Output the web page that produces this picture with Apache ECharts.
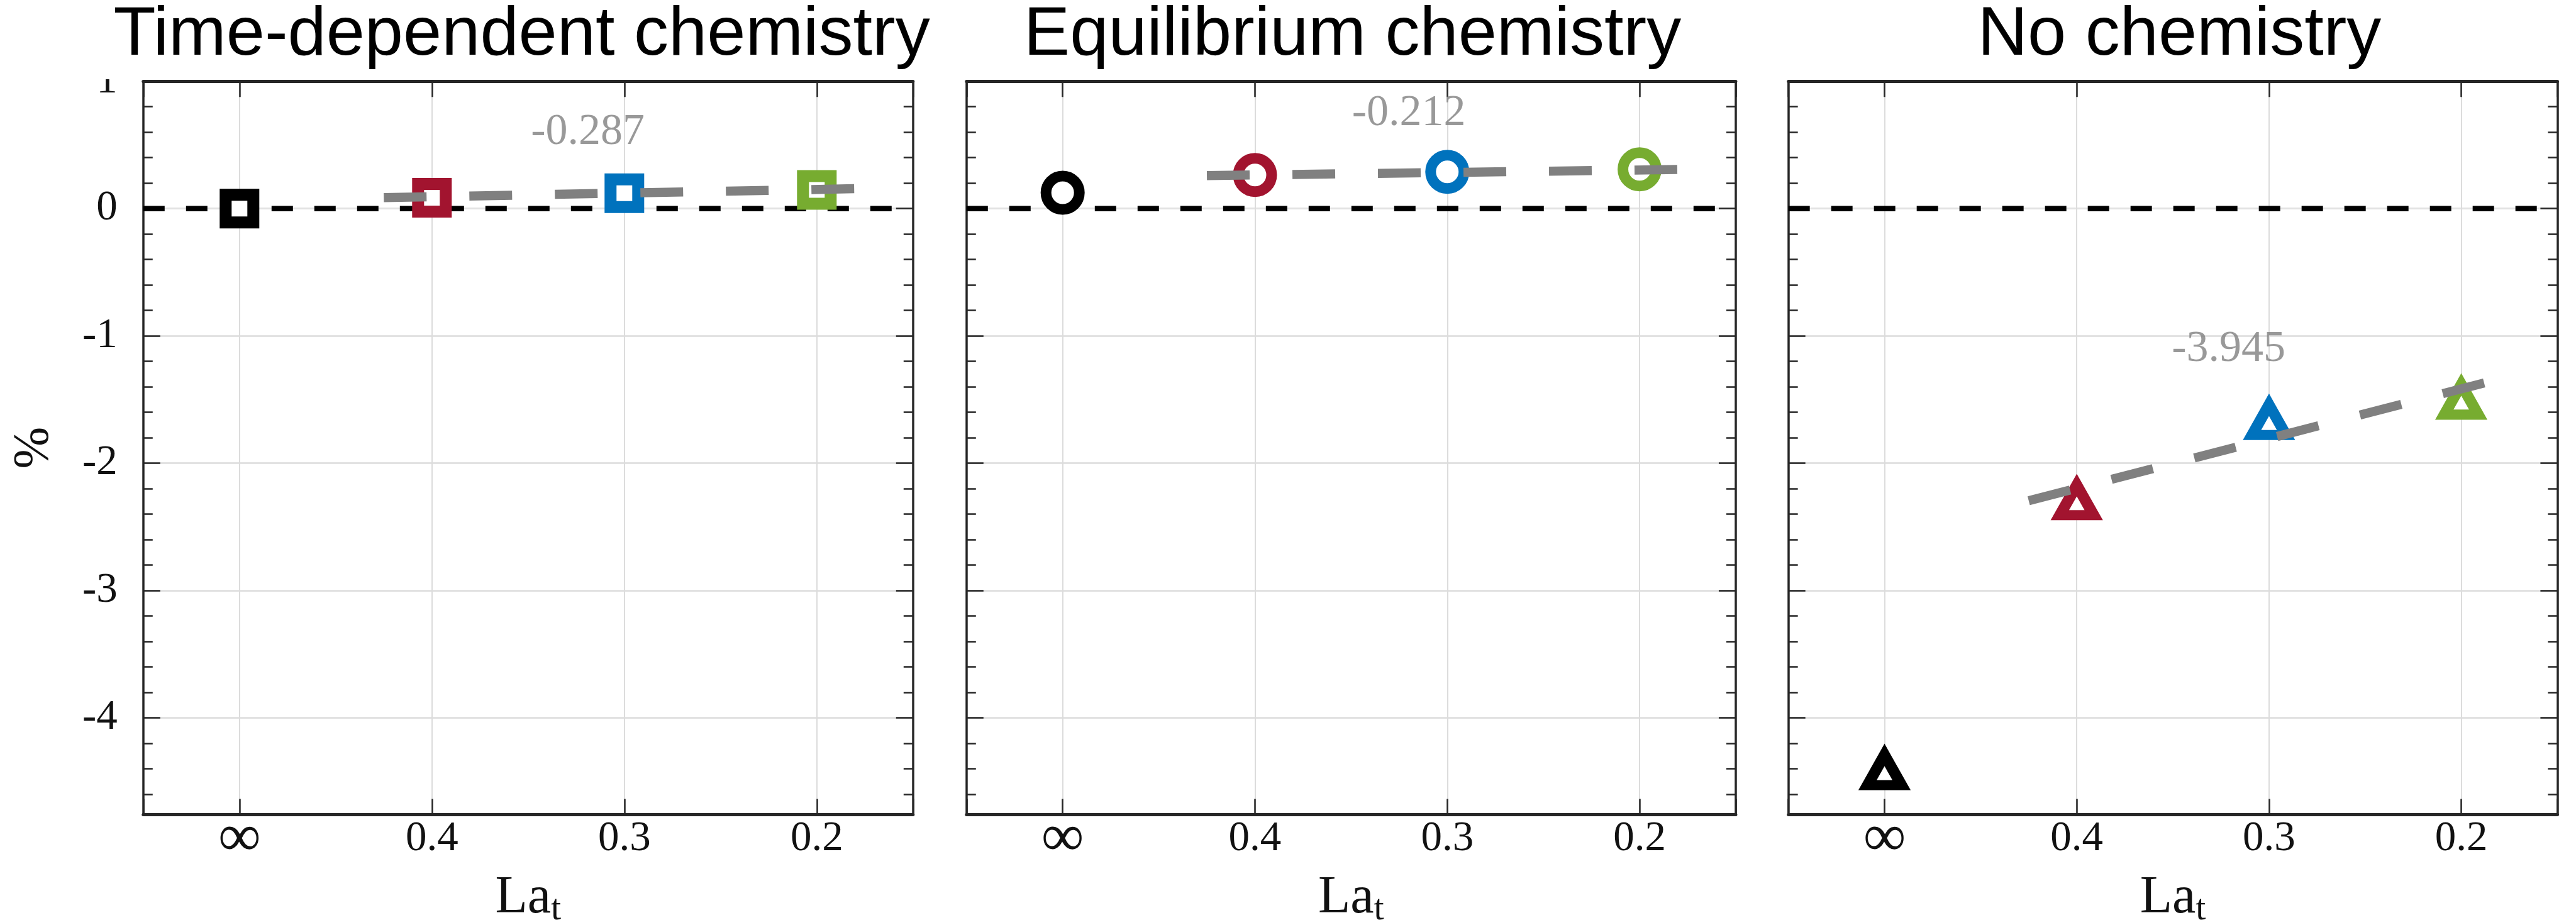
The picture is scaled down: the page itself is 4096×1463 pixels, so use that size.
<!DOCTYPE html>
<html>
<head>
<meta charset="utf-8">
<script src="https://cdn.jsdelivr.net/npm/echarts@6/dist/echarts.min.js"></script>
<style>
html, body { margin: 0; padding: 0; background: #fff; }
#chart { width: 4096px; height: 1463px; }
</style>
</head>
<body>
<div id="chart"></div>
<script>
// x categories (La_t), left to right
var laLabels = ['\u221e', '0.4', '0.3', '0.2'];
var markerColors = ['#000000', '#A2142F', '#0072BD', '#77AC30'];
var panelTitles = ['Time-dependent chemistry', 'Equilibrium chemistry', 'No chemistry'];
var panelSymbols = ['rect', 'circle', 'triangle'];

// % change at each La_t
var timeDepValues = [0.0, 0.085, 0.12, 0.147];
var equilValues = [0.124, 0.264, 0.288, 0.308];
var noChemValues = [-4.41, -2.29, -1.66, -1.50];

// gray dashed fits, [x index, %] end points
var timeDepFit = [[0.75, 0.086], [3.2, 0.156]];
var equilFit = [[0.75, 0.259], [3.2, 0.307]];
var noChemFit = [[0.75, -2.295], [3.2, -1.338]];

// slope annotations
var slopeTexts = ['-0.287', '-0.212', '-3.945'];
var slopeX = [1.81, 1.80, 1.79];
var slopeY = [0.597, 0.744, -1.105];

// y axis range
var yMin = -4.76;
var yMax = 1;

var panelValues = [timeDepValues, equilValues, noChemValues];
var panelFits = [timeDepFit, equilFit, noChemFit];

// layout (reference px * 0.85)
var S = 0.85;
var gridLeft = [268, 1808, 3345.5];
var gridRight = [1708, 3247, 4784];
var gridTop = 152, gridBottom = 1524;
var titleCenter = [976, 2530, 4077];

var serif = '"Liberation Serif", "DejaVu Serif", serif';
var frameColor = '#262626';

var grids = [], xAxes = [], yAxes = [], series = [], graphics = [];

var symbolSizes = [44, 53, [54, 48]];
var symbolBorders = [19, 17, 17];

function xLabel(v) {
    var i = Math.round(v);
    if (Math.abs(v - i) > 1e-6 || i < 0 || i > 3) return '';
    return i === 0 ? '{inf|' + laLabels[0] + '}' : laLabels[i];
}

for (var p = 0; p < 3; p++) {
    grids.push({
        left: gridLeft[p] * S,
        top: gridTop * S,
        width: (gridRight[p] - gridLeft[p]) * S,
        height: (gridBottom - gridTop) * S,
        containLabel: false,
        outerBoundsMode: 'none'
    });

    xAxes.push({
        type: 'value', gridIndex: p, position: 'bottom',
        min: -0.5, max: 3.5, splitNumber: 4,
        axisLine: { show: true, onZero: false, lineStyle: { color: frameColor, width: 5 } },
        axisTick: { show: true, inside: true, length: 25, lineStyle: { color: frameColor, width: 2.5 } },
        axisLabel: {
            formatter: xLabel, margin: 6, fontFamily: serif, fontSize: 67, color: '#111',
            rich: { inf: { fontFamily: serif, fontSize: 95, lineHeight: 67, color: '#111' } }
        },
        splitLine: { show: true, lineStyle: { color: '#dcdcdc', width: 2 } },
        name: '{a|La}{b|t}', nameLocation: 'middle', nameGap: 88,
        nameTextStyle: {
            rich: {
                a: { fontFamily: serif, fontSize: 84, color: '#111', verticalAlign: 'top', lineHeight: 84 },
                b: { fontFamily: serif, fontSize: 58, color: '#111', verticalAlign: 'top', lineHeight: 58, padding: [30, 0, 0, 0] }
            }
        }
    });
    xAxes.push({
        type: 'value', gridIndex: p, position: 'top',
        min: -0.5, max: 3.5, splitNumber: 4,
        axisLine: { show: true, onZero: false, lineStyle: { color: frameColor, width: 5 } },
        axisTick: { show: true, inside: true, length: 25, lineStyle: { color: frameColor, width: 2.5 } },
        axisLabel: { show: false },
        splitLine: { show: false }
    });
    yAxes.push({
        type: 'value', gridIndex: p, position: 'left',
        min: yMin, max: yMax, splitNumber: 6,
        axisLine: { show: true, onZero: false, lineStyle: { color: frameColor, width: 3.5 } },
        axisTick: { show: true, inside: true, length: 27, lineStyle: { color: frameColor, width: 2.5 } },
        minorTick: { show: true, splitNumber: 5, length: 15, lineStyle: { color: frameColor, width: 2.5 } },
        axisLabel: {
            show: p === 0, showMinLabel: false, margin: 41,
            fontFamily: serif, fontSize: 67, color: '#111',
            formatter: function (v) { return String(v); }
        },
        splitLine: { show: true, lineStyle: { color: '#e2e2e2', width: 3 } },
        name: p === 0 ? '%' : '', nameLocation: 'middle', nameGap: 133, nameRotate: 90,
        nameTextStyle: { fontFamily: serif, fontSize: 80, color: '#111' }
    });
    yAxes.push({
        type: 'value', gridIndex: p, position: 'right',
        min: yMin, max: yMax, splitNumber: 6,
        axisLine: { show: true, onZero: false, lineStyle: { color: frameColor, width: 3.5 } },
        axisTick: { show: true, inside: true, length: 27, lineStyle: { color: frameColor, width: 2.5 } },
        minorTick: { show: true, splitNumber: 5, length: 15, lineStyle: { color: frameColor, width: 2.5 } },
        axisLabel: { show: false },
        splitLine: { show: false }
    });

    // y = 0 reference
    series.push({
        type: 'line', xAxisIndex: 2 * p, yAxisIndex: 2 * p,
        data: [[-0.5, 0], [3.5, 0]], symbol: 'none', silent: true, z: 2,
        lineStyle: { color: '#000', width: 8.5, type: [34, 34] }
    });

    // markers
    var vals = panelValues[p];
    series.push({
        type: 'scatter', xAxisIndex: 2 * p, yAxisIndex: 2 * p, z: 3,
        symbol: panelSymbols[p], symbolSize: symbolSizes[p],
        data: vals.map(function (v, i) {
            return {
                value: [i, v],
                itemStyle: {
                    color: '#fff', opacity: 1,
                    borderColor: markerColors[i], borderWidth: symbolBorders[p]
                }
            };
        })
    });

    // fit line
    series.push({
        type: 'line', xAxisIndex: 2 * p, yAxisIndex: 2 * p, z: 4,
        data: panelFits[p], symbol: 'none',
        lineStyle: { color: '#808080', width: 14.5, type: [68, 68] }
    });

    // slope text
    series.push({
        type: 'scatter', xAxisIndex: 2 * p, yAxisIndex: 2 * p, z: 5,
        symbolSize: 1, itemStyle: { color: 'rgba(0,0,0,0)' },
        data: [[slopeX[p], slopeY[p]]],
        label: {
            show: true, position: 'inside', formatter: slopeTexts[p],
            fontFamily: serif, fontSize: 70, color: '#7f7f7f'
        }
    });

    graphics.push({
        type: 'text', z: 10,
        style: {
            text: panelTitles[p],
            x: titleCenter[p] * S,
            y: 57,
            textAlign: 'center', textVerticalAlign: 'middle',
            font: '110px "Liberation Sans", Arial, sans-serif',
            fill: '#000'
        }
    });
}

// white band over the top of the "1" label, as in the source figure
graphics.push({
    type: 'rect', z: 5,
    shape: { x: 0, y: 0, width: 224, height: 126 },
    style: { fill: '#fff' }
});

var chart = echarts.init(document.getElementById('chart'));
chart.setOption({
    animation: false,
    backgroundColor: '#fff',
    grid: grids,
    xAxis: xAxes,
    yAxis: yAxes,
    series: series,
    graphic: graphics
});
</script>
</body>
</html>
